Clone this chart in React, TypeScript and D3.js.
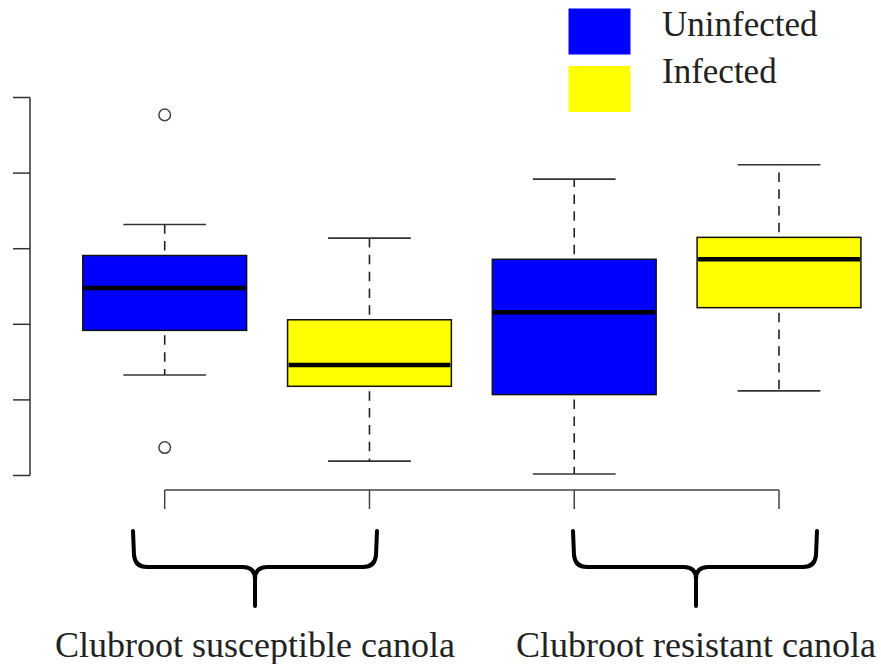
import React from 'react';
import * as d3 from 'd3';

const groups = ['S-Uninfected', 'S-Infected', 'R-Uninfected', 'R-Infected'];
const treatment = ['Uninfected', 'Infected', 'Uninfected', 'Infected'];
const lowerWhisker = [1.33, 0.19, 0.02, 1.12];
const q1 = [1.92, 1.18, 1.07, 2.22];
const median = [2.48, 1.46, 2.16, 2.86];
const q3 = [2.91, 2.06, 2.86, 3.15];
const upperWhisker = [3.32, 3.14, 3.92, 4.11];
const outliers: number[][] = [[4.77, 0.37], [], [], []];
const yTicks = [0, 1, 2, 3, 4, 5];
const legendLabels = ['Uninfected', 'Infected'];
const groupLabels = ['Clubroot susceptible canola', 'Clubroot resistant canola'];

const W = 881;
const H = 664;
const colors: Record<string, string> = { Uninfected: '#0000FF', Infected: '#FFFF00' };
const FONT = '"Liberation Serif", "Times New Roman", serif';

export default function App() {
  const y = d3.scaleLinear().domain([0, 5]).range([475.5, 97.5]);
  const x = d3.scalePoint<string>().domain(groups).range([164.7, 779]);
  const step = x.step();
  const boxW = step * 0.8;
  const capW = boxW * 0.505;

  // brace layout (annotation positions)
  const braces = [
    { l: 133, r: 377, c: 255 },
    { l: 573, r: 817, c: 696 },
  ];
  const braceTop = 531;
  const braceBar = 567;
  const braceTip = 606;
  const bracePath = (b: { l: number; r: number; c: number }) => {
    const rr = 12;
    return [
      `M${b.l},${braceTop} L${b.l + 1},${braceBar - rr} Q${b.l + 2},${braceBar} ${b.l + rr + 2},${braceBar}`,
      `L${b.c - 12},${braceBar} Q${b.c},${braceBar} ${b.c},${braceBar + 12} L${b.c},${braceTip}`,
      `M${b.c},${braceBar + 12} Q${b.c},${braceBar} ${b.c + 12},${braceBar}`,
      `L${b.r - rr - 2},${braceBar} Q${b.r - 2},${braceBar} ${b.r - 1},${braceBar - rr} L${b.r},${braceTop}`,
    ].join(' ');
  };

  const whiskerDash = '9.5,7.3';
  const dashOffset = 11.8;

  return (
    <svg
      width={W}
      height={H}
      style={{ position: 'absolute', left: 0, top: 0, display: 'block', background: '#fff' }}
      fontFamily={FONT}
    >
      {/* y axis */}
      <line x1={30} x2={30} y1={y(yTicks[0])} y2={y(yTicks[yTicks.length - 1])} stroke="#333" strokeWidth={1.5} />
      {yTicks.map((t) => (
        <line key={t} x1={13} x2={30} y1={y(t)} y2={y(t)} stroke="#333" strokeWidth={1.5} />
      ))}

      {/* boxes */}
      {groups.map((g, i) => {
        const cx = x(g)!;
        return (
          <g key={g}>
            <line
              x1={cx}
              x2={cx}
              y1={y(q3[i])}
              y2={y(upperWhisker[i])}
              stroke="#222"
              strokeWidth={1.6}
              strokeDasharray={whiskerDash}
              strokeDashoffset={dashOffset}
            />
            <line
              x1={cx}
              x2={cx}
              y1={y(q1[i])}
              y2={y(lowerWhisker[i])}
              stroke="#222"
              strokeWidth={1.6}
              strokeDasharray={whiskerDash}
              strokeDashoffset={dashOffset}
            />
            <line x1={cx - capW / 2} x2={cx + capW / 2} y1={y(upperWhisker[i])} y2={y(upperWhisker[i])} stroke="#333" strokeWidth={1.6} />
            <line x1={cx - capW / 2} x2={cx + capW / 2} y1={y(lowerWhisker[i])} y2={y(lowerWhisker[i])} stroke="#333" strokeWidth={1.6} />
            <rect
              x={cx - boxW / 2}
              y={y(q3[i])}
              width={boxW}
              height={y(q1[i]) - y(q3[i])}
              fill={colors[treatment[i]]}
              stroke="#111"
              strokeWidth={1.5}
            />
            <line x1={cx - boxW / 2 + 1} x2={cx + boxW / 2 - 1} y1={y(median[i])} y2={y(median[i])} stroke="#000" strokeWidth={4.5} />
            {outliers[i].map((o, k) => (
              <circle key={k} cx={cx} cy={y(o)} r={5.8} fill="none" stroke="#444" strokeWidth={1.5} />
            ))}
          </g>
        );
      })}

      {/* bottom group axis */}
      <line x1={x(groups[0])} x2={x(groups[groups.length - 1])} y1={490} y2={490} stroke="#444" strokeWidth={1.5} />
      {groups.map((g) => (
        <line key={g} x1={x(g)} x2={x(g)} y1={490} y2={509} stroke="#444" strokeWidth={1.5} />
      ))}

      {/* braces */}
      {braces.map((b, i) => (
        <path key={i} d={bracePath(b)} fill="none" stroke="#000" strokeWidth={4} strokeLinecap="round" strokeLinejoin="round" />
      ))}
      {groupLabels.map((t, i) => (
        <text key={t} x={braces[i].c} y={656.5} textAnchor="middle" fontSize={36} fill="#222">
          {t}
        </text>
      ))}

      {/* legend */}
      {legendLabels.map((l, i) => (
        <g key={l}>
          <rect x={568.5} y={8.5 + i * 57.5} width={62} height={46} fill={colors[l]} />
          <text x={662} y={36 + i * 46.5} fontSize={35} fill="#222">
            {l}
          </text>
        </g>
      ))}
    </svg>
  );
}
